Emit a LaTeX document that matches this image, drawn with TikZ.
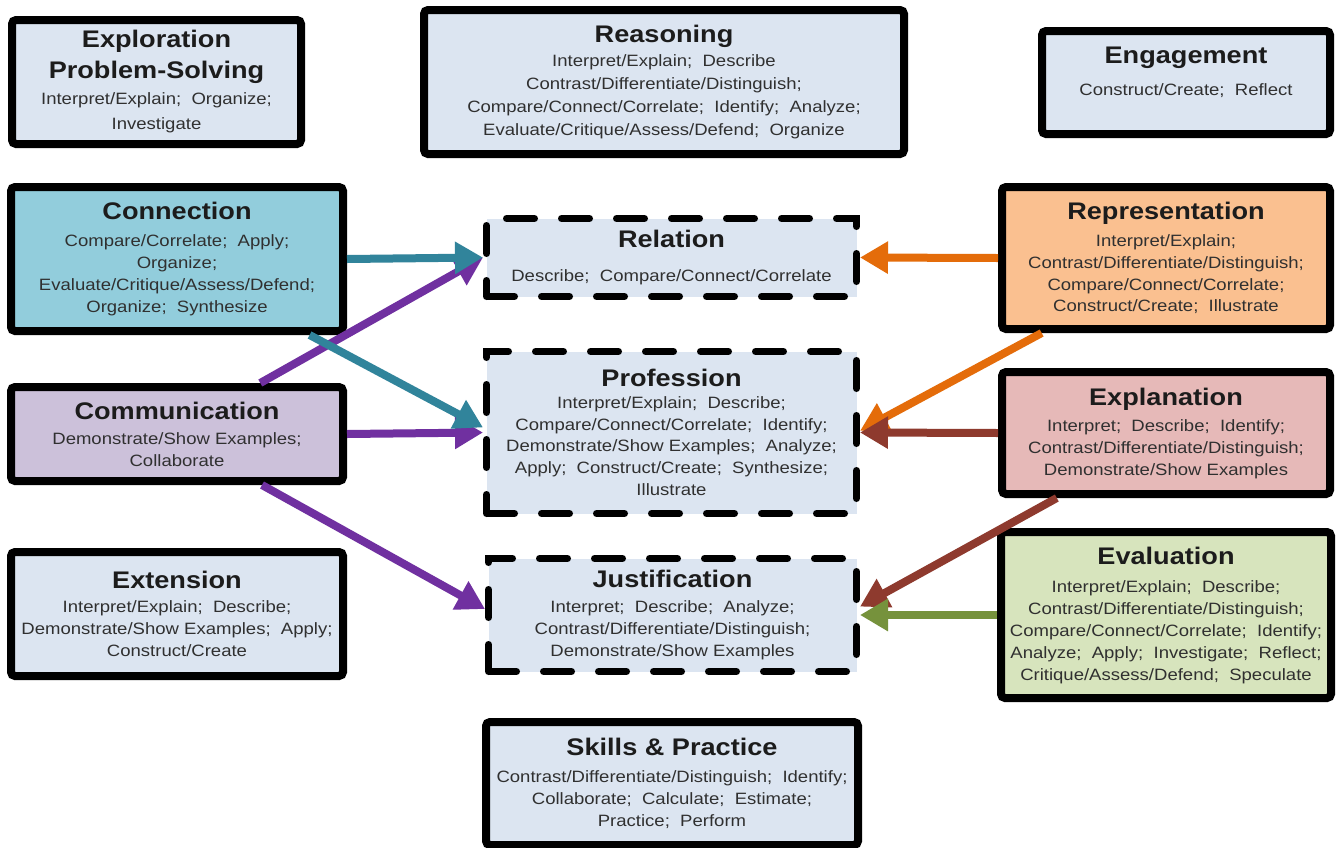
\documentclass[tikz,border=0pt]{standalone}
\usepackage{fontspec}
\setmainfont{Liberation Sans}[FakeStretch=1.13]
\usetikzlibrary{arrows.meta,calc}
\definecolor{lightf}{HTML}{DCE5F1}
\definecolor{tealf}{HTML}{92CDDC}
\definecolor{lavf}{HTML}{CCC1DA}
\definecolor{peachf}{HTML}{FAC090}
\definecolor{pinkf}{HTML}{E6B9B8}
\definecolor{greenf}{HTML}{D7E4BD}
\definecolor{tealc}{HTML}{31849B}
\definecolor{purpc}{HTML}{7030A0}
\definecolor{orangec}{HTML}{E46C0A}
\definecolor{brownc}{HTML}{8E3A2E}
\definecolor{greenc}{HTML}{76923C}
\definecolor{titlec}{HTML}{1C1C1C}
\definecolor{bodyc}{HTML}{303030}
\newcommand{\tf}{\fontsize{18pt}{20pt}\selectfont\bfseries\color{titlec}}
\tikzset{
  bx/.style={font=\fontsize{12.3pt}{#1}\selectfont},
  box/.style={draw=black, line width=6pt, rounded corners=3pt, align=center,
    inner sep=0pt, text=bodyc, bx=14pt},
  dbox/.style={draw=black, line width=5.25pt, line cap=round,
    dash pattern=on 21pt off 20.25pt, fill=lightf, align=center,
    inner sep=0pt, text=bodyc, bx=14pt},
  arr/.style={line width=6pt, -{Triangle[length=21pt,width=23pt]}}
}
\begin{document}
\begin{tikzpicture}[x=0.75pt,y=-0.75pt]
\useasboundingbox (0,0) rectangle (1336,847);
\fill[white] (0,0) rectangle (1336,847);
% left column
\node[box, fill=lightf, minimum width=216.75pt, minimum height=93pt, bx=18.75pt] (expl) at (156.5,82)
  {{\tf Exploration}\\[4.5pt]{\tf Problem-Solving}\\[0.75pt]Interpret/Explain; \ Organize;\\Investigate};
\node[box, fill=tealf, minimum width=249pt, minimum height=108pt, bx=16.3pt] (conn) at (177,259)
  {{\tf Connection}\\[4pt]Compare/Correlate; \ Apply;\\Organize;\\Evaluate/Critique/Assess/Defend;\\Organize; \ Synthesize};
\node[box, fill=lavf, minimum width=249pt, minimum height=70.5pt, bx=16.5pt] (comm) at (177,434)
  {{\tf Communication}\\[2.25pt]Demonstrate/Show Examples;\\Collaborate};
\node[box, fill=lightf, minimum width=249pt, minimum height=93pt, bx=16.5pt] (ext) at (177,614)
  {{\tf Extension}\\[1.5pt]Interpret/Explain; \ Describe;\\Demonstrate/Show Examples; \ Apply;\\Construct/Create};
% middle column
\node[box, fill=lightf, minimum width=360pt, minimum height=108pt, bx=17.25pt] (reas) at (664,82)
  {{\tf Reasoning}\\[0.75pt]Interpret/Explain; \ Describe\\Contrast/Differentiate/Distinguish;\\Compare/Connect/Correlate; \ Identify; \ Analyze;\\Evaluate/Critique/Assess/Defend; \ Organize};
\node[dbox, minimum width=277.5pt, minimum height=58.5pt] (rel) at (671.5,257.5)
  {{\tf Relation}\\[12pt]Describe; \ Compare/Connect/Correlate};
\node[dbox, minimum width=277.5pt, minimum height=121.5pt, bx=16.3pt] (prof) at (671.5,432.5)
  {{\tf Profession}\\[0pt]Interpret/Explain; \ Describe;\\Compare/Connect/Correlate; \ Identify;\\Demonstrate/Show Examples; \ Analyze;\\Apply; \ Construct/Create; \ Synthesize;\\Illustrate};
\node[dbox, minimum width=276pt, minimum height=84.75pt, bx=16.5pt] (just) at (672.5,615)
  {{\tf Justification}\\[2pt]Interpret; \ Describe; \ Analyze;\\Contrast/Differentiate/Distinguish;\\Demonstrate/Show Examples};
\node[box, fill=lightf, minimum width=279pt, minimum height=92.25pt, bx=16.5pt] (skills) at (672,783.5)
  {{\tf Skills \& Practice}\\[3.5pt]Contrast/Differentiate/Distinguish; \ Identify;\\Collaborate; \ Calculate; \ Estimate;\\Practice; \ Perform};
% right column
\node[box, fill=lightf, minimum width=216pt, minimum height=77.25pt] (eng) at (1186,82.5)
  {{\tf Engagement}\\[10pt]Construct/Create; \ Reflect\\[2.5pt]\mbox{}};
\node[box, fill=peachf, minimum width=246pt, minimum height=106.5pt, bx=16.3pt] (rep) at (1166,258)
  {{\tf Representation}\\[4pt]Interpret/Explain;\\Contrast/Differentiate/Distinguish;\\Compare/Connect/Correlate;\\Construct/Create; \ Illustrate};
\node[box, fill=pinkf, minimum width=246pt, minimum height=91.5pt, bx=16.5pt] (expn) at (1166,433)
  {{\tf Explanation}\\[3pt]Interpret; \ Describe; \ Identify;\\Contrast/Differentiate/Distinguish;\\Demonstrate/Show Examples};
\node[box, fill=greenf, minimum width=247.5pt, minimum height=124.5pt, bx=16.5pt] (eval) at (1166,615)
  {{\tf Evaluation}\\[4.5pt]Interpret/Explain; \ Describe;\\Contrast/Differentiate/Distinguish;\\Compare/Connect/Correlate; \ Identify;\\Analyze; \ Apply; \ Investigate; \ Reflect;\\Critique/Assess/Defend; \ Speculate};
% arrows
\draw[arr, purpc] ($(comm.north west)!0.745!(comm.north east)$) -- (rel.west);
\draw[arr, purpc] (comm.east) -- (prof.west);
\draw[arr, purpc] ($(comm.south west)!0.75!(comm.south east)$) -- ($(just.north west)!0.45!(just.south west)$);
\draw[arr, tealc] (conn.east) -- (rel.west);
\draw[arr, tealc] ($(conn.south west)!0.89!(conn.south east)$) -- ($(prof.north west)!0.47!(prof.south west)$);
\draw[arr, orangec] (rep.west) -- (rel.east);
\draw[arr, orangec] ($(rep.south west)!0.13!(rep.south east)$) -- ($(prof.north east)!0.49!(prof.south east)$);
\draw[arr, brownc] (expn.west) -- (prof.east);
\draw[arr, brownc] ($(expn.south west)!0.175!(expn.south east)$) -- ($(just.north east)!0.43!(just.south east)$);
\draw[arr, greenc] (eval.west) -- (just.east);
\end{tikzpicture}
\end{document}
